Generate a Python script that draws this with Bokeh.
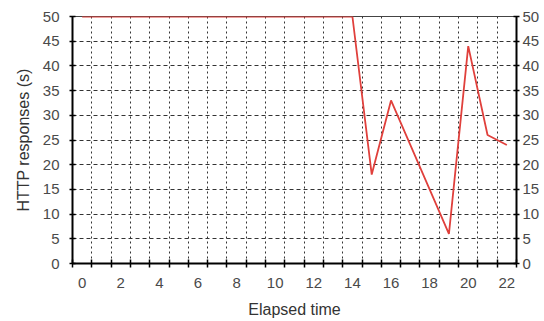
from bokeh.plotting import figure
from bokeh.models import FixedTicker, LinearAxis, Range1d
from bokeh.embed import file_html
from bokeh.resources import INLINE

elapsed = list(range(0, 23))
responses = [50, 50, 50, 50, 50, 50, 50, 50, 50, 50, 50, 50, 50, 50, 50,
             18, 33, 24, 15, 6, 44, 26, 24]
x_labels = [0, 2, 4, 6, 8, 10, 12, 14, 16, 18, 20, 22]
x_cells = [k - 0.5 for k in range(0, 24)]
y_ticks = [0, 5, 10, 15, 20, 25, 30, 35, 40, 45, 50]

FONT = "Liberation Sans"

p = figure(width=542, height=320, output_backend="svg", toolbar_location=None,
           x_range=Range1d(-0.5, 22.5), y_range=Range1d(0, 50),
           min_border_left=72, min_border_right=0, min_border_top=16, min_border_bottom=10)
p.background_fill_color = "white"
p.border_fill_color = "white"
p.outline_line_color = "#444444"
p.outline_line_width = 1

p.line(elapsed, responses, line_color="#e0403c", line_width=1.8)

# x axis
p.xaxis.ticker = FixedTicker(ticks=x_labels, minor_ticks=x_cells)
p.xaxis.axis_label = "Elapsed time"
p.xaxis.major_tick_in = 0
p.xaxis.major_tick_out = 0
p.xaxis.minor_tick_in = 4
p.xaxis.minor_tick_out = 4
p.xaxis.minor_tick_line_color = "black"
p.xaxis.minor_tick_line_width = 1.5

# y axis
p.yaxis.ticker = FixedTicker(ticks=y_ticks)
p.yaxis.axis_label = "HTTP responses (s)"
p.yaxis.minor_tick_line_color = None

ry = LinearAxis(ticker=FixedTicker(ticks=y_ticks))
ry.minor_tick_line_color = None
p.add_layout(ry, "right")

for ax in [p.xaxis[0], p.yaxis[0], ry]:
    ax.axis_line_color = "black"
    ax.axis_line_width = 2
    ax.major_label_text_font = FONT
    ax.major_label_text_font_size = "15px"
    ax.major_label_text_color = "#4a4a4a"
    ax.axis_label_text_font = FONT
    ax.axis_label_text_font_size = "16px"
    ax.axis_label_text_font_style = "normal"
    ax.axis_label_text_color = "#333333"

p.xaxis.major_label_standoff = 10
p.xaxis.axis_label_standoff = 10
p.yaxis.major_label_standoff = 10
p.yaxis.axis_label_standoff = 8
ry.major_label_standoff = 3

for ax in [p.yaxis[0], ry]:
    ax.major_tick_in = 3
    ax.major_tick_out = 3
    ax.major_tick_line_color = "black"
    ax.major_tick_line_width = 1.5

p.xgrid.ticker = FixedTicker(ticks=x_cells)
p.xgrid.grid_line_color = "#333333"
p.xgrid.grid_line_dash = "2 3"
p.xgrid.grid_line_width = 1
p.ygrid.ticker = FixedTicker(ticks=y_ticks)
p.ygrid.grid_line_color = "#333333"
p.ygrid.grid_line_dash = "4 3"
p.ygrid.grid_line_width = 1

open("out.html", "w").write(file_html(p, INLINE))
